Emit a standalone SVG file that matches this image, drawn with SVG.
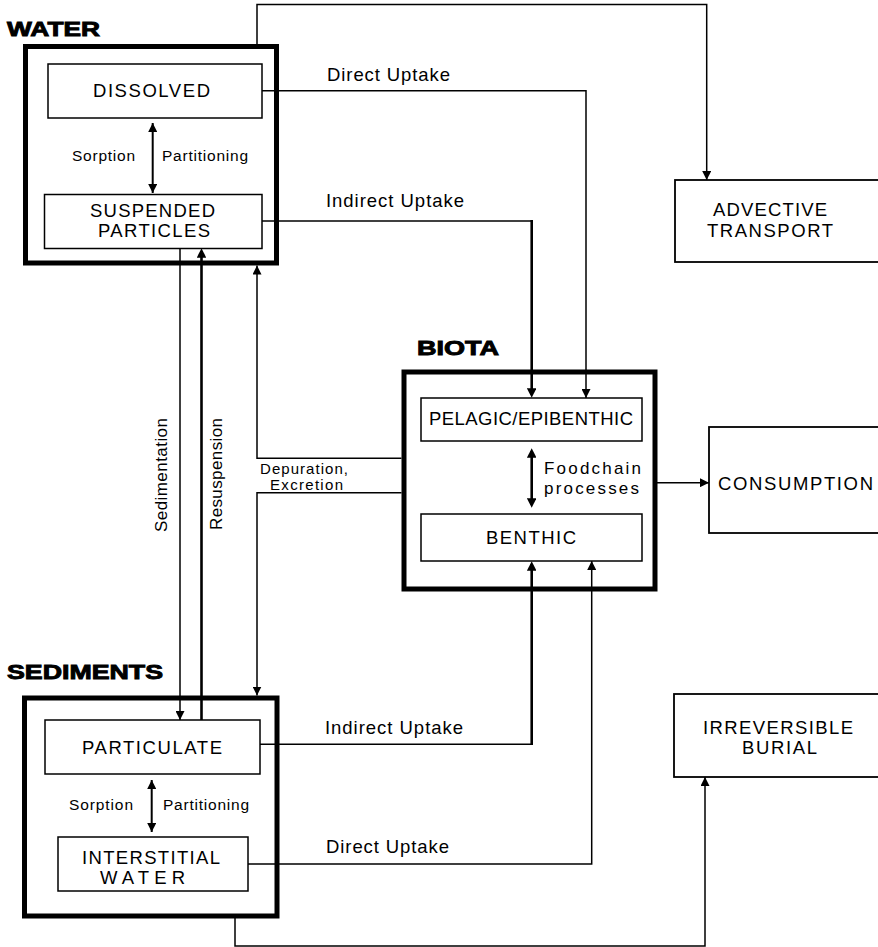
<svg xmlns="http://www.w3.org/2000/svg" width="878" height="947" viewBox="0 0 878 947">
<style>
text{font-family:"Liberation Sans",Arial,sans-serif;fill:#000}
.h{font-weight:bold;font-size:20px;stroke:#000;stroke-width:0.9}
.b{font-size:18.5px}
.s{font-size:15.5px}
.m{font-size:17px}
.d{font-size:15px}
.outer{fill:none;stroke:#000;stroke-width:5}
.inner{fill:#fff;stroke:#000;stroke-width:1.5}
.ext{fill:#fff;stroke:#000;stroke-width:1.8}
.c{fill:none;stroke:#000;stroke-width:1.5}
.ct{fill:none;stroke:#000;stroke-width:2.6}
</style>
<defs>
<marker id="ah" viewBox="0 0 10 10" refX="10" refY="5" markerWidth="9" markerHeight="9" markerUnits="userSpaceOnUse" orient="auto-start-reverse"><path d="M0,0 L10,5 L0,10 z"/></marker>
<marker id="ahT" viewBox="0 0 10 10" refX="7" refY="5" markerWidth="9.5" markerHeight="9.5" markerUnits="userSpaceOnUse" orient="auto-start-reverse"><path d="M0,0 L10,5 L0,10 z"/></marker>
</defs>
<rect width="878" height="947" fill="#fff"/>

<g id="connectors">
<path class="c" d="M257,44 V4.5 H706.7 V180" marker-end="url(#ah)"/>
<path class="c" d="M262,90.7 H586 V398" marker-end="url(#ah)"/>
<path class="c" d="M262,221 H531.7"/>
<path class="ct" d="M531.7,220 V395" marker-end="url(#ahT)"/>
<path class="c" d="M180,248 V720" marker-end="url(#ah)"/>
<path class="ct" d="M201.5,720 V251" marker-end="url(#ahT)"/>
<path class="c" d="M401.5,458.3 H257 V265.5" marker-end="url(#ah)"/>
<path class="c" d="M401.5,492.7 H257 V695.5" marker-end="url(#ah)"/>
<path class="c" d="M657,482.7 H709" marker-end="url(#ah)"/>
<path class="c" d="M260,744.3 H531.7"/>
<path class="ct" d="M531.7,745 V564" marker-end="url(#ahT)"/>
<path class="c" d="M246,864 H591.7 V561" marker-end="url(#ah)"/>
<path class="c" d="M235,918 V946 H705 V777" marker-end="url(#ah)"/>
</g>

<g id="water">
<text class="h" x="7" y="36" textLength="93" lengthAdjust="spacingAndGlyphs">WATER</text>
<rect class="outer" x="25.5" y="46.5" width="251" height="216.5"/>
<g id="dissolved">
<rect class="inner" x="48" y="64" width="214" height="54"/>
<text class="b" x="93" y="96.5" textLength="117">DISSOLVED</text>
</g>
<path class="c" style="stroke-width:2" d="M152.7,123 V193" marker-start="url(#ah)" marker-end="url(#ah)"/>
<text class="s" x="72" y="161" textLength="63">Sorption</text>
<text class="s" x="162" y="161" textLength="86">Partitioning</text>
<g id="suspended">
<rect class="inner" x="44.5" y="194.5" width="217.5" height="54"/>
<text class="b" x="90" y="217" textLength="125">SUSPENDED</text>
<text class="b" x="98" y="237" textLength="112">PARTICLES</text>
</g>
</g>

<g id="labels">
<text class="b" x="327" y="80.5" textLength="123">Direct Uptake</text>
<text class="b" x="326" y="207" textLength="138">Indirect Uptake</text>
<text class="d" x="260" y="474" textLength="88">Depuration,</text>
<text class="d" x="270" y="489.5" textLength="73">Excretion</text>
<text class="m" transform="translate(166.5,532) rotate(-90)" x="0" y="0" textLength="114">Sedimentation</text>
<text class="m" transform="translate(222,530) rotate(-90)" x="0" y="0" textLength="112">Resuspension</text>
<text class="b" x="325" y="733.5" textLength="138">Indirect Uptake</text>
<text class="b" x="326" y="852.5" textLength="123">Direct Uptake</text>
</g>

<g id="advective">
<rect class="ext" x="675" y="180" width="215" height="82"/>
<text class="b" x="713" y="215.5" textLength="114">ADVECTIVE</text>
<text class="b" x="707" y="236.5" textLength="126">TRANSPORT</text>
</g>

<g id="biota">
<text class="h" x="417" y="355" textLength="82" lengthAdjust="spacingAndGlyphs">BIOTA</text>
<rect class="outer" x="404" y="372" width="251" height="217"/>
<g id="pelagic">
<rect class="inner" x="421" y="398" width="221" height="43"/>
<text class="b" x="429" y="425" textLength="204">PELAGIC/EPIBENTHIC</text>
</g>
<path class="ct" d="M531.7,451 V505" marker-start="url(#ahT)" marker-end="url(#ahT)"/>
<text class="m" x="544" y="473.5" textLength="97">Foodchain</text>
<text class="m" x="544" y="493.5" textLength="95">processes</text>
<g id="benthic">
<rect class="inner" x="421" y="514" width="221" height="47"/>
<text class="b" x="486" y="543.5" textLength="90">BENTHIC</text>
</g>
</g>

<g id="consumption">
<rect class="ext" x="709" y="427" width="180" height="106"/>
<text class="b" x="718" y="489.5" textLength="155">CONSUMPTION</text>
</g>

<g id="sediments">
<text class="h" x="7" y="678.5" textLength="156" lengthAdjust="spacingAndGlyphs">SEDIMENTS</text>
<rect class="outer" x="24.5" y="698" width="252.5" height="218"/>
<g id="particulate">
<rect class="inner" x="45" y="720" width="215" height="54"/>
<text class="b" x="82" y="753.5" textLength="140">PARTICULATE</text>
</g>
<path class="c" style="stroke-width:2" d="M151.7,780 V832" marker-start="url(#ah)" marker-end="url(#ah)"/>
<text class="s" x="69" y="809.5" textLength="64">Sorption</text>
<text class="s" x="163" y="809.5" textLength="86">Partitioning</text>
<g id="interstitial">
<rect class="inner" x="58" y="837" width="190" height="54"/>
<text class="b" x="82" y="863.5" textLength="138">INTERSTITIAL</text>
<text class="b" x="100" y="883.5" textLength="85">WATER</text>
</g>
</g>

<g id="burial">
<rect class="ext" x="674" y="694" width="215" height="83"/>
<text class="b" x="703" y="733.5" textLength="150">IRREVERSIBLE</text>
<text class="b" x="742" y="753.5" textLength="75">BURIAL</text>
</g>
</svg>
